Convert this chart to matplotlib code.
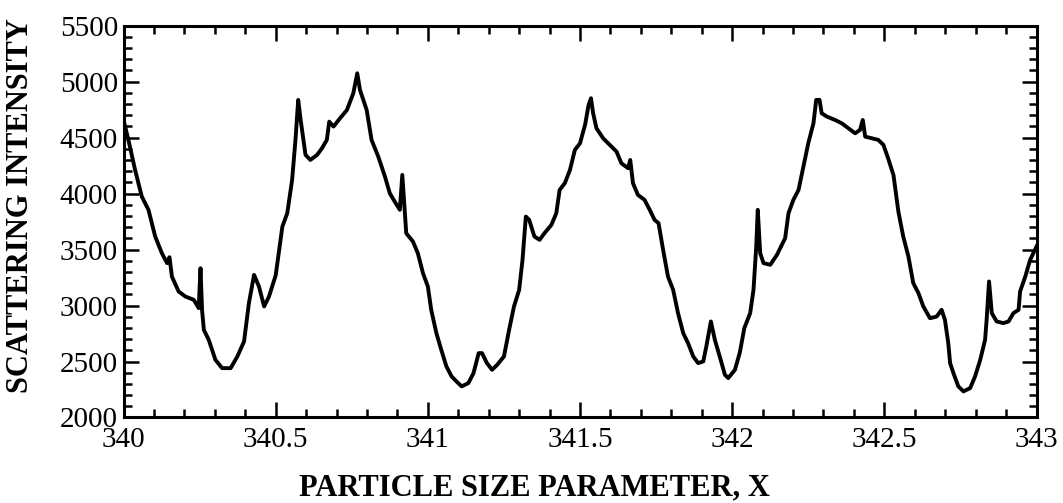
import matplotlib.pyplot as plt
import numpy as np
from matplotlib.ticker import MultipleLocator, FuncFormatter

# size parameter vs. scattered intensity
size_param = [
    340.000, 340.016, 340.038, 340.060, 340.082, 340.104, 340.126, 340.143, 340.151,
    340.159, 340.181, 340.203, 340.231, 340.247, 340.253, 340.258, 340.264, 340.280,
    340.302, 340.324, 340.352, 340.374, 340.396, 340.412, 340.429, 340.445, 340.462,
    340.478, 340.500, 340.522, 340.538, 340.554, 340.565, 340.574, 340.582, 340.598,
    340.614, 340.636, 340.652, 340.668, 340.676, 340.690, 340.707, 340.734, 340.755,
    340.768, 340.777, 340.799, 340.815, 340.837, 340.859, 340.875, 340.891, 340.908,
    340.916, 340.924, 340.929, 340.951, 340.967, 340.984, 341.000, 341.011, 341.028,
    341.044, 341.061, 341.078, 341.094, 341.111, 341.133, 341.150, 341.167, 341.178,
    341.194, 341.211, 341.228, 341.250, 341.267, 341.283, 341.300, 341.311, 341.322,
    341.333, 341.350, 341.367, 341.383, 341.406, 341.422, 341.433, 341.450, 341.467,
    341.483, 341.500, 341.517, 341.528, 341.536, 341.543, 341.554, 341.576, 341.598,
    341.620, 341.636, 341.658, 341.665, 341.674, 341.690, 341.712, 341.729, 341.745,
    341.758, 341.773, 341.789, 341.806, 341.822, 341.839, 341.855, 341.872, 341.888,
    341.905, 341.915, 341.930, 341.943, 341.959, 341.976, 341.987, 342.009, 342.025,
    342.040, 342.059, 342.070, 342.079, 342.084, 342.092, 342.103, 342.125, 342.147,
    342.174, 342.185, 342.201, 342.218, 342.234, 342.250, 342.267, 342.276, 342.287,
    342.294, 342.311, 342.338, 342.360, 342.382, 342.404, 342.420, 342.429, 342.437,
    342.459, 342.480, 342.497, 342.513, 342.530, 342.546, 342.562, 342.579, 342.595,
    342.612, 342.628, 342.650, 342.672, 342.688, 342.699, 342.710, 342.716, 342.727,
    342.743, 342.760, 342.782, 342.798, 342.815, 342.831, 342.836, 342.844, 342.853,
    342.869, 342.891, 342.908, 342.924, 342.941, 342.946, 342.963, 342.979, 343.000,
]
intensity = [
    4658, 4480, 4212, 3974, 3855, 3617, 3468, 3379, 3432,
    3259, 3126, 3081, 3051, 2977, 3334, 2962, 2783, 2694,
    2515, 2441, 2441, 2545, 2679, 3021, 3274, 3170, 2992,
    3081, 3270, 3706, 3825, 4123, 4480, 4837, 4658, 4346,
    4301, 4346, 4405, 4480, 4643, 4599, 4658, 4747, 4896,
    5075, 4926, 4747, 4480, 4331, 4152, 4003, 3929, 3855,
    4167, 3840, 3646, 3572, 3468, 3289, 3170, 2962, 2754,
    2605, 2456, 2367, 2322, 2278, 2307, 2396, 2575, 2575,
    2486, 2426, 2471, 2545, 2783, 2992, 3140, 3408, 3795,
    3765, 3617, 3587, 3646, 3721, 3825, 4033, 4093, 4212,
    4390, 4450, 4620, 4790, 4852, 4718, 4584, 4494, 4435,
    4375, 4271, 4227, 4301, 4093, 3989, 3944, 3855, 3765,
    3736, 3498, 3259, 3140, 2932, 2754, 2664, 2545, 2486,
    2501, 2635, 2858, 2694, 2545, 2382, 2352, 2426, 2580,
    2800, 2932, 3140, 3527, 3855, 3468, 3379, 3364, 3453,
    3602, 3825, 3944, 4033, 4242, 4450, 4628, 4837, 4837,
    4718, 4688, 4658, 4628, 4584, 4539, 4569, 4658, 4509,
    4494, 4480, 4435, 4310, 4165, 3840, 3617, 3438, 3200,
    3111, 2992, 2887, 2902, 2962, 2873, 2664, 2486, 2396,
    2278, 2233, 2263, 2367, 2515, 2694, 2873, 3215, 2932,
    2858, 2843, 2858, 2932, 2962, 3126, 3259, 3408, 3527,
]

plt.rcParams['font.family'] = ['Liberation Serif', 'DejaVu Serif']

fig = plt.figure(figsize=(10.63, 5.03), dpi=100)
ax = fig.add_axes([0.1162, 0.170, 0.8589, 0.7789])

ax.plot(size_param, intensity, color='black', lw=2.8, solid_joinstyle='round')

ax.set_xlim(340, 343)
ax.set_ylim(2000, 5500)
ax.xaxis.set_major_locator(MultipleLocator(0.5))
ax.xaxis.set_minor_locator(MultipleLocator(0.1))
ax.yaxis.set_major_locator(MultipleLocator(500))
ax.yaxis.set_minor_locator(MultipleLocator(100))
ax.xaxis.set_major_formatter(FuncFormatter(lambda v, p: f'{v:g}'))

ax.tick_params(which='both', direction='in', top=True, right=True, width=1.8)
ax.tick_params(which='major', length=10.5, labelsize=21)
ax.tick_params(axis='x', which='major', pad=7)
ax.tick_params(axis='y', which='major', pad=4)
ax.tick_params(which='minor', length=5.5)
for sp in ax.spines.values():
    sp.set_linewidth(2.2)

ax.set_xlabel('PARTICLE SIZE PARAMETER, X', fontsize=22, fontweight='bold')
ax.set_ylabel('SCATTERING INTENSITY', fontsize=22, fontweight='bold')
ax.xaxis.set_label_coords(0.45, -0.142)
ax.yaxis.set_label_coords(-0.097, 0.542)

fig.savefig('out.png', dpi=100, facecolor='white')
